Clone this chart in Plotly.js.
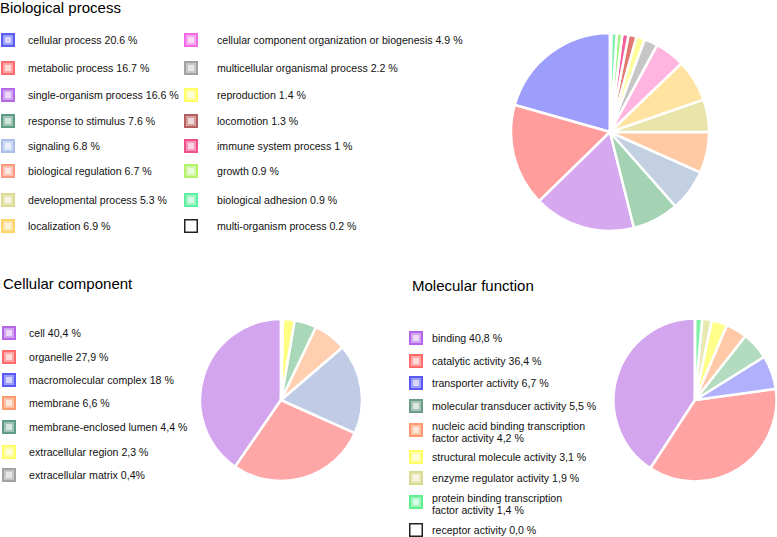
<!DOCTYPE html>
<html>
<head>
<meta charset="utf-8">
<script src="https://cdn.plot.ly/plotly-3.0.1.min.js"></script>
<style>html,body{margin:0;padding:0;background:#fff;}#chart{width:777px;height:537px;}</style>
</head>
<body>
<div id="chart"></div>
<script>
// ---------- DATA ----------
const bpLabels = ["cellular process","metabolic process","single-organism process","response to stimulus","signaling","biological regulation","developmental process","localization","cellular component organization or biogenesis","multicellular organismal process","reproduction","locomotion","immune system process","growth","biological adhesion","multi-organism process"];
const bpValues = [20.6,16.7,16.6,7.6,6.8,6.7,5.3,6.9,4.9,2.2,1.4,1.3,1,0.9,0.9,0.2];
const bpLegendText = ["cellular process 20.6 %","metabolic process 16.7 %","single-organism process 16.6 %","response to stimulus 7.6 %","signaling 6.8 %","biological regulation 6.7 %","developmental process 5.3 %","localization 6.9 %","cellular component organization or biogenesis 4.9 %","multicellular organismal process 2.2 %","reproduction 1.4 %","locomotion 1.3 %","immune system process 1 %","growth 0.9 %","biological adhesion 0.9 %","multi-organism process 0.2 %"];

const ccLabels = ["cell","organelle","macromolecular complex","membrane","membrane-enclosed lumen","extracellular region","extracellular matrix"];
const ccValues = [40.4,27.9,18,6.6,4.4,2.3,0.4];
const ccLegendText = ["cell 40,4 %","organelle 27,9 %","macromolecular complex 18 %","membrane 6,6 %","membrane-enclosed lumen 4,4 %","extracellular region 2,3 %","extracellular matrix 0,4%"];

const mfLabels = ["binding","catalytic activity","transporter activity","molecular transducer activity","nucleic acid binding transcription factor activity","structural molecule activity","enzyme regulator activity","protein binding transcription factor activity","receptor activity"];
const mfValues = [40.8,36.4,6.7,5.5,4.2,3.1,1.9,1.4,0.0];
const mfLegendText = ["binding 40,8 %","catalytic activity 36,4 %","transporter activity 6,7 %","molecular transducer activity 5,5 %","nucleic acid binding transcription<br>factor activity 4,2 %","structural molecule activity 3,1 %","enzyme regulator activity 1,9 %","protein binding transcription<br>factor activity 1,4 %","receptor activity 0,0 %"];

// ---------- STYLES ----------
const bpPieColors = ['#9d9dfb','#ff9d9d','#d6a8ef','#a3d3b3','#c2d0e2','#ffc9a3','#e9e5aa','#ffe3a0','#ffb5e0','#c6c6c6','#ffff99','#e07a70','#f2609a','#a8f58a','#7ef0b0','#ffffff'];
const bpKeyColors = ['#5a5af5','#ff6a6a','#b468e6','#5f9c84','#a9bfe9','#ff9a82','#d9d98f','#ffd466','#f26ae6','#a2a2a2','#ffff66','#b86060','#f0508a','#b4f26a','#5ef0a2',null];
const ccPieColors = ['#d3a5ee','#ffa6a6','#c0cbe6','#ffcfaf','#a9d8b9','#ffff80','#c8c8c8'];
const ccKeyColors = ['#b466e6','#ff6a6a','#5a5af5','#ff9a70','#5f9c84','#ffff66','#a2a2a2'];
const mfPieColors = ['#d3a5ee','#ffa3a3','#b0b0fc','#b3dbbf','#ffc8a6','#ffff8a','#e9e9b3','#80f2a6','#ffffff'];
const mfKeyColors = ['#b466e6','#ff6a6a','#5a5af5','#6a9c88','#ff9a70','#ffff66','#d9d98f','#60f090',null];

const W = 777, H = 537;
const px = x => x / W;
const py = y => 1 - y / H;
const FONT = 'Liberation Sans, Arial, Helvetica, sans-serif';

function mix(hex, t) {
  const n = parseInt(hex.slice(1), 16);
  const r = (n >> 16) & 255, g = (n >> 8) & 255, b = n & 255;
  const f = c => Math.round(c + (255 - c) * t);
  return 'rgb(' + f(r) + ',' + f(g) + ',' + f(b) + ')';
}

function pieTrace(labels, values, colors, cx, cy, r) {
  // Plotly's counterclockwise mode puts the END of the first slice at `rotation`;
  // shift so the first slice starts at 12 o'clock and runs counterclockwise.
  const total = values.reduce((a, b) => a + b, 0);
  const rot = -values[0] / total * 360;
  return {
    type: 'pie', labels: labels, values: values, sort: false,
    direction: 'counterclockwise', rotation: rot,
    textinfo: 'none', hoverinfo: 'label+percent', showlegend: false,
    marker: {colors: colors, line: {color: '#ffffff', width: 2.5}},
    domain: {x: [px(cx - r), px(cx + r)], y: [py(cy + r), py(cy - r)]}
  };
}

const shapes = [];
const annotations = [];

function key(x0, yc, color) {
  const s = 14;
  if (!color) {
    shapes.push({type: 'rect', xref: 'paper', yref: 'paper', x0: px(x0 + 0.75), x1: px(x0 + s - 0.75), y0: py(yc + s / 2 - 0.75), y1: py(yc - s / 2 + 0.75), fillcolor: '#ffffff', line: {color: '#222222', width: 1.5}});
    return;
  }
  const layers = [[s, 0], [10, 0.4], [6, 0.75]];
  layers.forEach(([w, t]) => {
    const o = (s - w) / 2;
    shapes.push({type: 'rect', xref: 'paper', yref: 'paper', x0: px(x0 + o), x1: px(x0 + o + w), y0: py(yc + w / 2), y1: py(yc - w / 2), fillcolor: mix(color, t), line: {width: 0}});
  });
}

function label(x, yc, text, size) {
  const lines = text.split('<br>');
  const gap = 11.5;
  lines.forEach((ln, i) => {
    const y = yc + (i - (lines.length - 1) / 2) * gap;
    annotations.push({xref: 'paper', yref: 'paper', x: px(x), y: py(y), xanchor: 'left', yanchor: 'middle', showarrow: false, text: ln, font: {family: FONT, size: size || 10.6, color: '#111'}, borderpad: 0});
  });
}

function title(x, yc, text) {
  annotations.push({xref: 'paper', yref: 'paper', x: px(x), y: py(yc), xanchor: 'left', yanchor: 'middle', showarrow: false, text: text, font: {family: FONT, size: 15, color: '#000'}, borderpad: 0});
}

// Biological process legend (two columns)
const bpRows = [40, 68, 95, 121, 146, 171, 200, 226];
bpLegendText.forEach((t, i) => {
  const col = i < 8 ? 0 : 1;
  const row = i % 8;
  const sx = col === 0 ? 1 : 184;
  const tx = col === 0 ? 27 : 216;
  key(sx, bpRows[row], bpKeyColors[i]);
  label(tx, bpRows[row], t);
});

// Cellular component legend
const ccRows = [333, 357, 380, 403, 427, 452, 475];
ccLegendText.forEach((t, i) => {
  key(2, ccRows[i], ccKeyColors[i]);
  label(28, ccRows[i], t);
});

// Molecular function legend
const mfRows = [338, 361, 383, 406, 432, 457, 478, 504, 530];
mfLegendText.forEach((t, i) => {
  key(409, mfRows[i] - (t.indexOf('<br>') >= 0 ? 2 : 0), mfKeyColors[i]);
  label(431, mfRows[i], t);
});

title(-1, 7, 'Biological process');
title(2, 283, 'Cellular component');
title(411, 285, 'Molecular function');

const data = [
  pieTrace(bpLabels, bpValues, bpPieColors, 610, 132, 99),
  pieTrace(ccLabels, ccValues, ccPieColors, 281, 400, 81),
  pieTrace(mfLabels, mfValues, mfPieColors, 695, 400, 81.5)
];

const layout = {
  width: W, height: H,
  margin: {l: 0, r: 0, t: 0, b: 0},
  paper_bgcolor: '#ffffff', plot_bgcolor: '#ffffff',
  showlegend: false,
  shapes: shapes,
  annotations: annotations,
  font: {family: FONT}
};

Plotly.newPlot('chart', data, layout, {staticPlot: true, displayModeBar: false});
</script>
</body>
</html>
